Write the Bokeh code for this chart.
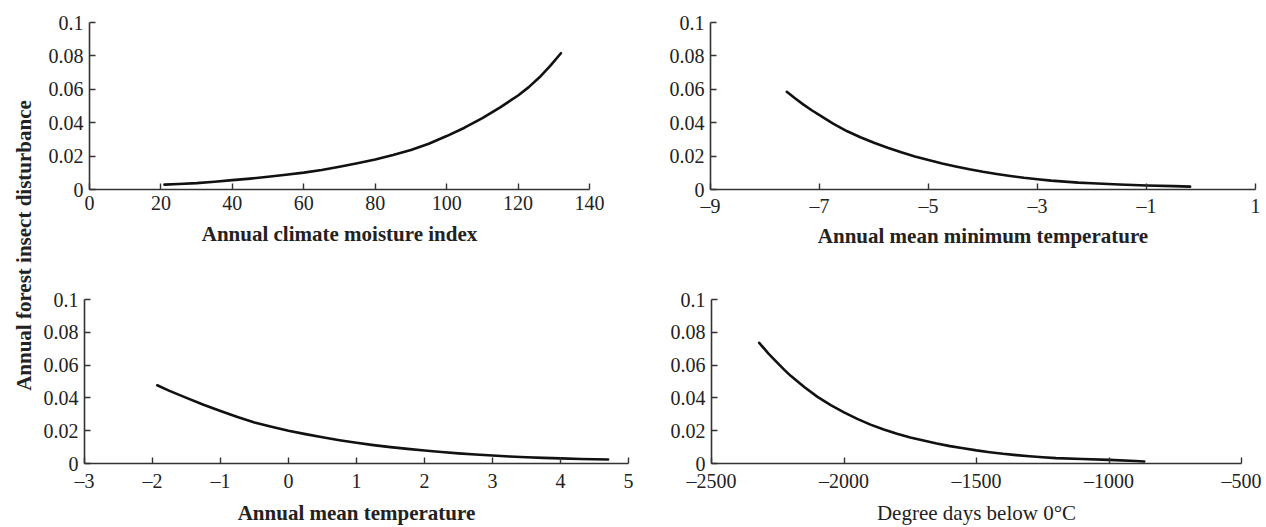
import math
from bokeh.plotting import figure
from bokeh.layouts import row, column
from bokeh.models import Range1d, Label, FixedTicker
from bokeh.embed import file_html
from bokeh.resources import INLINE

# ---- data ----
y_ticks = [0, 0.02, 0.04, 0.06, 0.08, 0.1]
y_tick_labels = ["0", "0.02", "0.04", "0.06", "0.08", "0.1"]

cmi_x = [21, 25, 30, 35, 40, 45, 50, 55, 60, 65, 70, 75, 80, 85, 90, 95, 100, 105, 110, 115, 120, 123, 126, 129, 132]
cmi_y = [0.0029, 0.0033, 0.0038, 0.0046, 0.0056, 0.0065, 0.0076, 0.0088, 0.0101, 0.0117, 0.0136, 0.0157,
         0.0180, 0.0207, 0.0237, 0.0274, 0.0320, 0.0370, 0.0427, 0.0492, 0.0563, 0.0613, 0.0672, 0.0740, 0.0816]
cmi_ticks = [0, 20, 40, 60, 80, 100, 120, 140]
cmi_tick_labels = ["0", "20", "40", "60", "80", "100", "120", "140"]

tmin_x = [-7.6, -7.45, -7.3, -7.15, -7.0, -6.75, -6.5, -6.25, -6.0, -5.75, -5.5, -5.25, -5.0, -4.75, -4.5,
          -4.25, -4.0, -3.75, -3.5, -3.25, -3.0, -2.75, -2.5, -2.25, -2.0, -1.5, -1.0, -0.5, -0.2]
tmin_y = [0.0585, 0.0546, 0.0510, 0.0476, 0.0445, 0.0394, 0.0350, 0.0313, 0.0280, 0.0250, 0.0223, 0.0198, 0.0176,
          0.0156, 0.0138, 0.0121, 0.0106, 0.0093, 0.0081, 0.0070, 0.0061, 0.0053, 0.0047, 0.0041, 0.0037,
          0.0030, 0.0024, 0.0020, 0.0017]
tmin_ticks = [-9, -7, -5, -3, -1, 1]
tmin_tick_labels = ["\u20139", "\u20137", "\u20135", "\u20133", "\u20131", "1"]

tmean_x = [-1.93, -1.75, -1.5, -1.25, -1.0, -0.75, -0.5, -0.25, 0, 0.25, 0.5, 0.75, 1.0, 1.25, 1.5, 1.75,
           2.0, 2.25, 2.5, 2.75, 3.0, 3.25, 3.5, 3.75, 4.0, 4.3, 4.7]
tmean_y = [0.0477, 0.0443, 0.0400, 0.0358, 0.0320, 0.0283, 0.0250, 0.0224, 0.0200, 0.0179, 0.0160, 0.0142,
           0.0126, 0.0112, 0.0100, 0.0089, 0.0079, 0.0070, 0.0062, 0.0055, 0.0049, 0.0043, 0.0038, 0.0034,
           0.0031, 0.0027, 0.0024]
tmean_ticks = [-3, -2, -1, 0, 1, 2, 3, 4, 5]
tmean_tick_labels = ["\u20133", "\u20132", "\u20131", "0", "1", "2", "3", "4", "5"]

dd_x = [-2320, -2285, -2250, -2225, -2200, -2150, -2100, -2050, -2000, -1950, -1900, -1850, -1800, -1750,
        -1700, -1650, -1600, -1550, -1500, -1450, -1400, -1350, -1300, -1250, -1200, -1100, -1000, -900, -867]
dd_y = [0.0736, 0.0670, 0.0612, 0.0571, 0.0533, 0.0466, 0.0406, 0.0356, 0.0312, 0.0272, 0.0237, 0.0207, 0.0181,
        0.0159, 0.0140, 0.0122, 0.0106, 0.0093, 0.0080, 0.0069, 0.0059, 0.0051, 0.0044, 0.0038, 0.0033,
        0.0027, 0.0022, 0.0015, 0.0012]
dd_ticks = [-2500, -2000, -1500, -1000, -500]
dd_tick_labels = ["\u20132500", "\u20132000", "\u20131500", "\u20131000", "\u2013500"]

FONT = "Liberation Serif"
INK = "#222222"


def panel(xs, ys, xticks, xlabels, xr, title, bold, width, height,
          bl, br, bt, bb, lab_standoff, title_standoff):
    p = figure(width=width, height=height, output_backend="svg", toolbar_location=None,
               x_range=Range1d(*xr), y_range=Range1d(0, 0.1),
               min_border_left=bl, min_border_right=br, min_border_top=bt, min_border_bottom=bb)
    p.grid.visible = False
    p.outline_line_color = None
    p.background_fill_color = "white"
    p.border_fill_color = "white"
    p.line(xs, ys, line_color="#111111", line_width=2.6, line_join="round", line_cap="round")
    for ax in (p.xaxis[0], p.yaxis[0]):
        ax.axis_line_color = "#333333"
        ax.axis_line_width = 1.6
        ax.major_tick_line_color = "#333333"
        ax.major_tick_line_width = 1.4
        ax.major_tick_in = 6
        ax.major_tick_out = 0
        ax.minor_tick_line_color = None
        ax.major_label_text_font = FONT
        ax.major_label_text_font_size = "20px"
        ax.major_label_text_color = INK
    p.xaxis.ticker = FixedTicker(ticks=xticks)
    p.xaxis.major_label_overrides = dict(zip(xticks, xlabels))
    p.yaxis.ticker = FixedTicker(ticks=y_ticks)
    p.yaxis.major_label_overrides = dict(zip(y_ticks, y_tick_labels))
    p.yaxis.major_label_standoff = 6
    p.xaxis.major_label_standoff = lab_standoff
    p.xaxis.axis_label = title
    p.xaxis.axis_label_text_font = FONT
    p.xaxis.axis_label_text_font_size = "21px"
    p.xaxis.axis_label_text_font_style = "bold" if bold else "normal"
    p.xaxis.axis_label_text_color = INK
    p.xaxis.axis_label_standoff = title_standoff
    return p


# left shared axis title
lab = figure(width=36, height=527, output_backend="svg", toolbar_location=None,
             x_axis_location=None, y_axis_location=None,
             min_border_left=0, min_border_right=0, min_border_top=0, min_border_bottom=0)
lab.grid.visible = False
lab.outline_line_color = None
lab.add_layout(Label(x=23, y=282, x_units="screen", y_units="screen",
                     text="Annual forest insect disturbance", angle=math.pi / 2,
                     text_align="center", text_baseline="middle",
                     text_font=FONT, text_font_size="21px", text_font_style="bold",
                     text_color=INK))

p1 = panel(cmi_x, cmi_y, cmi_ticks, cmi_tick_labels, (0, 140),
           "Annual climate moisture index", True, 614, 270, 53, 61, 22, 77, 6, 9)
p2 = panel(tmin_x, tmin_y, tmin_ticks, tmin_tick_labels, (-9, 1),
           "Annual mean minimum temperature", True, 616, 270, 60, 11, 21, 81, 5, 4)
p3 = panel(tmean_x, tmean_y, tmean_ticks, tmean_tick_labels, (-3, 5),
           "Annual mean temperature", True, 614, 257, 48, 22, 29, 59, 6, 6)
p4 = panel(dd_x, dd_y, dd_ticks, dd_tick_labels, (-2500, -500),
           "Degree days below 0\u00b0C", False, 616, 257, 61, 25, 29, 61, 6, 6)

layout = row(lab, column(row(p1, p2), row(p3, p4)))
open("out.html", "w").write(file_html(layout, INLINE))
